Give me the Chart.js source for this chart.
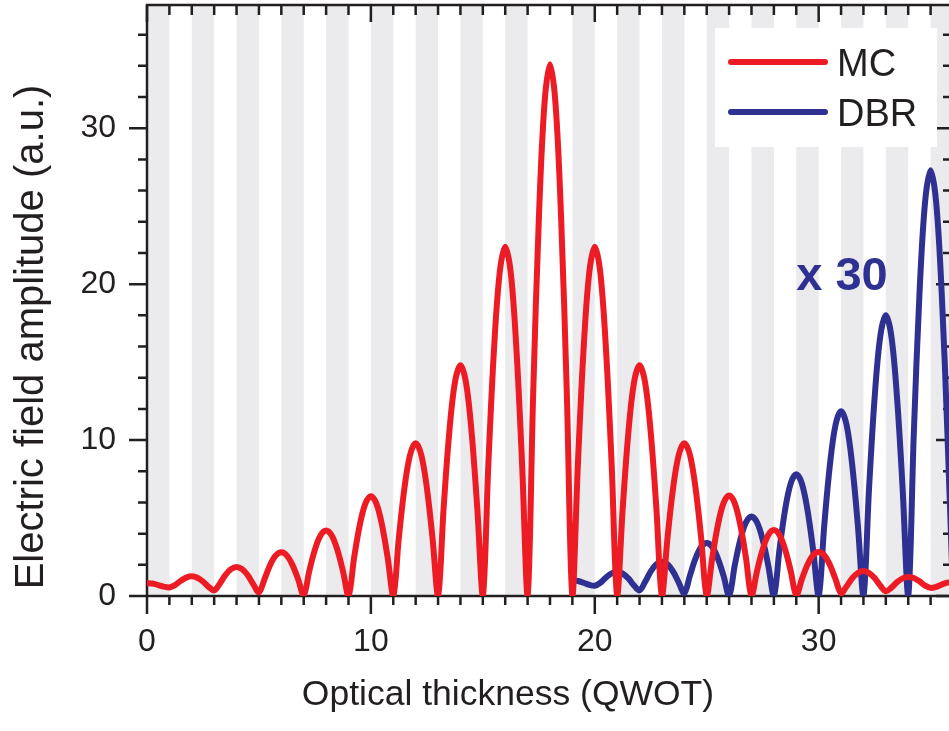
<!DOCTYPE html>
<html>
<head>
<meta charset="utf-8">
<title>Electric field profile</title>
<script src="https://cdn.jsdelivr.net/npm/chart.js@4.4.1/dist/chart.umd.min.js"></script>
<style>
    html, body { margin: 0; padding: 0; background: #fff; overflow: hidden; }
    #wrap { width: 960px; height: 731px; }
</style>
</head>
<body>
<div id="wrap"><canvas id="fieldChart" width="960" height="731"></canvas></div>
<script>
// sampling step along the stack (QWOT)
const step = 0.25;

// microcavity: field amplitude from x = 0 to 36
const mcStart = 0;
const mcValues = [
    0.83, 0.80, 0.70, 0.60,
    0.55, 0.70, 0.97, 1.18,
    1.26, 1.17, 0.93, 0.59,
    0.36, 0.79, 1.34, 1.72,
    1.86, 1.72, 1.33, 0.75,
    0.24, 1.09, 1.99, 2.59,
    2.80, 2.59, 1.98, 1.07,
    0.05, 1.61, 2.97, 3.88,
    4.20, 3.88, 2.97, 1.61,
    0.00, 2.45, 4.53, 5.91,
    6.40, 5.91, 4.53, 2.45,
    0.00, 3.75, 6.93, 9.05,
    9.80, 9.05, 6.93, 3.75,
    0.00, 5.66, 10.47, 13.67,
    14.80, 13.67, 10.47, 5.66,
    0.00, 8.57, 15.84, 20.70,
    22.40, 20.70, 15.84, 8.57,
    0.00, 13.05, 24.11, 31.50,
    34.10, 31.50, 24.11, 13.05,
    0.00, 8.57, 15.84, 20.70,
    22.40, 20.70, 15.84, 8.57,
    0.00, 5.66, 10.47, 13.67,
    14.80, 13.67, 10.47, 5.66,
    0.00, 3.75, 6.93, 9.05,
    9.80, 9.05, 6.93, 3.75,
    0.00, 2.47, 4.56, 5.96,
    6.45, 5.96, 4.56, 2.47,
    0.00, 1.62, 2.99, 3.91,
    4.23, 3.91, 2.99, 1.62,
    0.05, 1.08, 2.00, 2.61,
    2.82, 2.61, 2.00, 1.09,
    0.18, 0.63, 1.14, 1.48,
    1.60, 1.48, 1.15, 0.67,
    0.30, 0.54, 0.89, 1.13,
    1.22, 1.15, 0.94, 0.67,
    0.52, 0.59, 0.74, 0.86,
    0.90
];

// bare mirror (scaled x 30): field amplitude from x = 19 to 36
const dbrStart = 19;
const dbrValues = [
    1.00, 0.96, 0.85, 0.72,
    0.66, 0.85, 1.19, 1.45,
    1.55, 1.44, 1.13, 0.68,
    0.36, 0.91, 1.58, 2.04,
    2.20, 2.03, 1.56, 0.86,
    0.18, 1.31, 2.41, 3.14,
    3.40, 3.14, 2.40, 1.30,
    0.00, 1.95, 3.61, 4.71,
    5.10, 4.71, 3.61, 1.95,
    0.00, 2.99, 5.52, 7.21,
    7.80, 7.21, 5.52, 2.99,
    0.00, 4.54, 8.38, 10.95,
    11.85, 10.95, 8.38, 4.54,
    0.00, 6.89, 12.73, 16.63,
    18.00, 16.63, 12.73, 6.89,
    0.00, 10.45, 19.30, 25.22,
    27.30, 25.22, 19.30, 10.45,
    0.00
];

// shaded layers of the stack (start, end)
const layerBands = [
    [0, 1], [2, 3], [4, 5], [6, 7], [8, 9], [10, 11], [12, 13], [14, 15], [16, 17],
    [19, 20], [21, 22], [23, 24], [25, 26], [27, 28], [29, 30], [31, 32], [33, 34], [35, 36]
];

const xTickValues = [0, 10, 20, 30];
const yTickValues = [0, 10, 20, 30];
const seriesLabels = ['MC', 'DBR'];

const RED = '#ED1C24';
const BLUE = '#2E3192';
const INK = '#231F20';
const FONT = "'Liberation Sans', Arial, sans-serif";

const toPoints = (start, values) => values.map((v, i) => ({ x: start + i * step, y: v }));

// grey layer stripes behind the curves, plus the boxed axes with minor ticks
const frame = {
    id: 'frame',
    beforeDatasetsDraw(chart) {
        const { ctx, chartArea: a, scales: { x, y } } = chart;
        ctx.save();
        ctx.fillStyle = '#EBEBED';
        layerBands.forEach(([s, e]) => {
            const x0 = x.getPixelForValue(s);
            const x1 = x.getPixelForValue(e);
            ctx.fillRect(x0, a.top, x1 - x0, a.bottom - a.top);
        });

        ctx.strokeStyle = INK;
        ctx.lineWidth = 2.5;
        ctx.lineCap = 'butt';
        ctx.strokeRect(a.left, a.top, a.right - a.left, a.bottom - a.top);

        ctx.beginPath();
        for (let v = 0; v <= 36; v += 1) {
            const px = x.getPixelForValue(v);
            const major = v % 10 === 0;
            ctx.moveTo(px, a.bottom);
            ctx.lineTo(px, a.bottom + (major ? 18 : 9));
            ctx.moveTo(px, a.top);
            ctx.lineTo(px, a.top + (major ? 17 : 10));
        }
        for (let v = 0; v <= 36; v += 2) {
            const py = y.getPixelForValue(v);
            const major = v % 10 === 0;
            ctx.moveTo(a.left, py);
            ctx.lineTo(a.left - (major ? 18 : 9), py);
            ctx.moveTo(a.right, py);
            ctx.lineTo(a.right - (major ? 17 : 10), py);
        }
        ctx.stroke();
        ctx.restore();
    },
    afterDraw(chart) {
        const { ctx, scales: { x, y } } = chart;
        ctx.save();

        // axis titles
        ctx.fillStyle = INK;
        ctx.textAlign = 'center';
        ctx.textBaseline = 'alphabetic';
        ctx.font = `35.5px ${FONT}`;
        ctx.fillText('Optical thickness (QWOT)', 508, 705);
        ctx.translate(43, 337);
        ctx.rotate(-Math.PI / 2);
        ctx.font = `40px ${FONT}`;
        ctx.fillText('Electric field amplitude (a.u.)', 0, 0);
        ctx.setTransform(1, 0, 0, 1, 0, 0);

        // scale factor note for the mirror curve
        ctx.fillStyle = BLUE;
        ctx.textAlign = 'left';
        ctx.font = `bold 47px ${FONT}`;
        ctx.fillText('x 30', x.getPixelForValue(29.0), y.getPixelForValue(19.6));

        // legend box
        ctx.fillStyle = '#fff';
        ctx.fillRect(715, 28, 222, 119);
        ctx.lineWidth = 6;
        ctx.lineCap = 'round';
        ctx.font = `38px ${FONT}`;
        chart.data.datasets.forEach((ds, i) => {
            const ly = 62 + i * 50;
            ctx.strokeStyle = ds.borderColor;
            ctx.beginPath();
            ctx.moveTo(731, ly);
            ctx.lineTo(825, ly);
            ctx.stroke();
            ctx.fillStyle = INK;
            ctx.fillText(ds.label, 837, ly + 14);
        });
        ctx.restore();
    }
};

new Chart(document.getElementById('fieldChart'), {
    type: 'line',
    data: {
        datasets: [
            {
                label: seriesLabels[0],
                data: toPoints(mcStart, mcValues),
                borderColor: RED,
                borderWidth: 6
            },
            {
                label: seriesLabels[1],
                data: toPoints(dbrStart, dbrValues),
                borderColor: BLUE,
                borderWidth: 6
            }
        ]
    },
    options: {
        responsive: false,
        animation: false,
        devicePixelRatio: 1,
        layout: { padding: { top: 5, right: 7, left: 0, bottom: 0 } },
        elements: {
            point: { radius: 0 },
            line: { tension: 0.35, borderCapStyle: 'round', borderJoinStyle: 'round', fill: false }
        },
        plugins: {
            legend: { display: false },
            tooltip: { enabled: false }
        },
        scales: {
            x: {
                type: 'linear',
                min: 0,
                max: 36,
                grid: { display: false, drawTicks: false },
                border: { display: false },
                afterBuildTicks: s => { s.ticks = xTickValues.map(v => ({ value: v })); },
                afterFit: s => {
                    s.height = 135;
                    s.paddingLeft = 0;
                    s.paddingRight = 0;
                },
                ticks: {
                    padding: 27,
                    maxRotation: 0,
                    autoSkip: false,
                    color: INK,
                    font: { family: FONT, size: 32 }
                }
            },
            y: {
                min: 0,
                max: 37.9,
                grid: { display: false, drawTicks: false },
                border: { display: false },
                afterBuildTicks: s => { s.ticks = yTickValues.map(v => ({ value: v })); },
                afterFit: s => {
                    s.width = 147;
                    s.paddingTop = 0;
                    s.paddingBottom = 0;
                },
                ticks: {
                    padding: 31,
                    autoSkip: false,
                    color: INK,
                    font: { family: FONT, size: 32 }
                }
            }
        }
    },
    plugins: [frame]
});
</script>
</body>
</html>
